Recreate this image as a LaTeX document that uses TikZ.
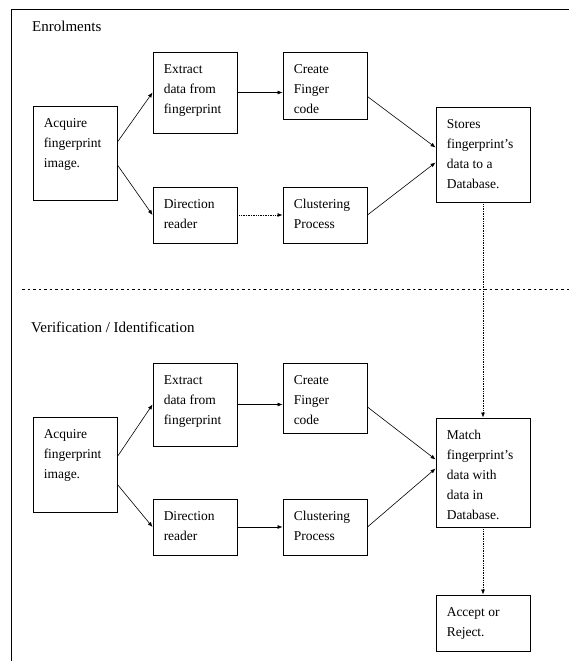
\documentclass[tikz,border=0pt]{standalone}
\usepackage{fontspec}
\setmainfont{Liberation Serif}
\usetikzlibrary{fit,arrows.meta}
\tikzset{
  boxst/.style={draw, line width=0.9pt, inner sep=0pt, rectangle},
  txt/.style={anchor=north west, inner sep=0pt, align=left, font=\fontsize{13.5}{20}\selectfont},
  head/.style={anchor=west, inner sep=0pt, font=\fontsize{15}{18}\selectfont},
  arr/.style={line width=0.6pt, -{Latex[length=5pt,width=4pt]}},
  dotarr/.style={line width=0.7pt, densely dotted, -{Latex[length=5pt,width=4pt]}},
  frame/.style={line width=1pt},
  sep/.style={line width=1pt, dash pattern=on 2.5pt off 3pt}
}
\newcommand{\mkbox}[6]{%
  \node[boxst, fit={(#2,#3) (#4,#5)}] (#1) {};
  \node[txt] (#1t) at ([xshift=11pt,yshift=-12.5pt]#1.north west) {#6};
}
\begin{document}
\begin{tikzpicture}[x=1pt,y=-1pt]
\useasboundingbox (0,0) rectangle (569,661);
% frame
\coordinate (ftl) at (11,10);
\coordinate (ftr) at (569,10);
\coordinate (fbl) at (11,661);
\draw[frame] (ftr) -- (ftl) -- (fbl);
\coordinate (sl) at (22,289);
\coordinate (sr) at (569,289);
\draw[sep] (sl) -- (sr);
% headings
\node[head] (h1) at (32,26) {Enrolments};
\node[head] (h2) at (31,327) {Verification / Identification};
% enrolment boxes
\mkbox{acqa}{33}{106}{117}{200}{Acquire\\fingerprint\\image.}
\mkbox{exta}{153}{52}{237}{133}{Extract\\data from\\fingerprint}
\mkbox{crea}{283}{52}{367}{119}{Create\\Finger\\code}
\mkbox{sto}{436}{107}{530}{202}{Stores\\fingerprint’s\\data to a\\Database.}
\mkbox{dira}{153}{187}{237}{243}{Direction\\reader}
\mkbox{clua}{283}{187}{367}{243}{Clustering\\Process}
% verification boxes
\mkbox{acqb}{33}{417}{117}{512}{Acquire\\fingerprint\\image.}
\mkbox{extb}{153}{363}{237}{446}{Extract\\data from\\fingerprint}
\mkbox{creb}{283}{363}{367}{433}{Create\\Finger\\code}
\mkbox{mat}{436}{418}{530}{527}{Match\\fingerprint’s\\data with\\data in\\Database.}
\mkbox{dirb}{153}{499}{237}{555}{Direction\\reader}
\mkbox{club}{283}{499}{367}{555}{Clustering\\Process}
\mkbox{acc}{436}{595}{530}{651}{Accept or\\Reject.}
% enrolment arrows
\draw[arr] ([yshift=11pt]acqa.east) -- (exta.west);
\draw[arr] ([yshift=-12pt]acqa.east) -- (dira.west);
\draw[arr] (exta.east) -- (exta.east -| crea.west);
\draw[dotarr] (dira.east) -- (clua.west);
\draw[arr] ([yshift=-11pt]crea.east) -- ([yshift=7pt]sto.west);
\draw[arr] (clua.east) -- ([yshift=-8pt]sto.west);
\draw[dotarr] (sto.south) -- (mat.north);
% verification arrows
\draw[arr] ([yshift=8pt]acqb.east) -- (extb.west);
\draw[arr] ([yshift=-20pt]acqb.east) -- (dirb.west);
\draw[arr] (extb.east) -- (extb.east -| creb.west);
\draw[arr] (dirb.east) -- (club.west);
\draw[arr] ([yshift=-9pt]creb.east) -- ([yshift=13pt]mat.west);
\draw[arr] (club.east) -- ([yshift=4pt]mat.west);
\draw[dotarr] (mat.south) -- (acc.north);
\end{tikzpicture}
\end{document}
